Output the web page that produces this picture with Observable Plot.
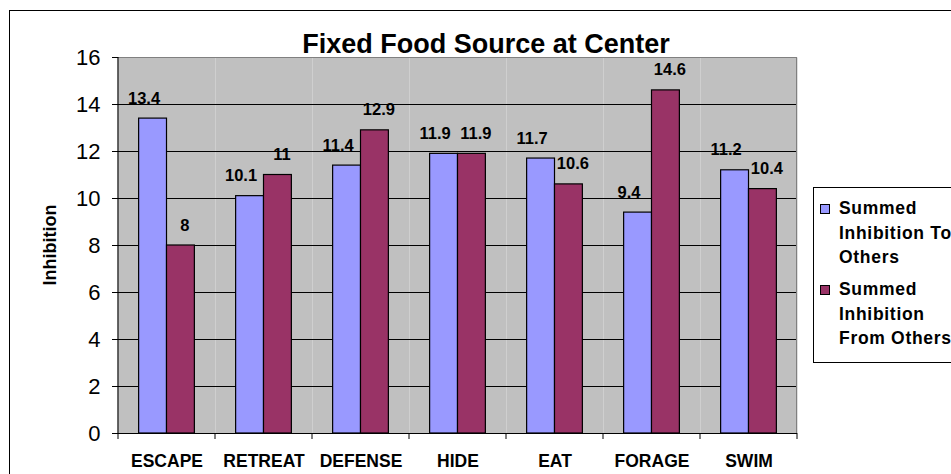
<!DOCTYPE html>
<html>
<head>
<meta charset="utf-8">
<script src="https://cdn.jsdelivr.net/npm/d3@7"></script>
<script src="https://cdn.jsdelivr.net/npm/@observablehq/plot@0.6"></script>
<style>
  html, body { margin: 0; padding: 0; width: 951px; height: 474px; overflow: hidden; background: #fff; }
  body { position: relative; font-family: Arial, "Liberation Sans", sans-serif; }
  #outer { position: absolute; left: 9px; top: 10px; width: 1000px; height: 500px; border: 1px solid #000; box-sizing: border-box; }
  #chart { position: absolute; left: 0; top: 0; }
  #title { position: absolute; left: 0; width: 972px; top: 31px; text-align: center; font-size: 27px; line-height: 27px; font-weight: bold; }
  #ytitle { position: absolute; left: -50px; width: 200px; top: 236px; text-align: center; font-size: 18px; line-height: 18px; font-weight: bold; transform: rotate(-90deg); }
  #legend { position: absolute; left: 813px; top: 187px; width: 170px; height: 176px; border: 1px solid #000; box-sizing: border-box; background: #fff; }
  .item { position: absolute; left: 0; }
  .sw { position: absolute; left: 6px; width: 8px; height: 8px; border: 1px solid #000; }
  .lab { position: absolute; left: 25px; width: 220px; font-size: 17.5px; line-height: 24.5px; font-weight: bold; letter-spacing: 0.7px; white-space: nowrap; }
</style>
</head>
<body>
<div id="outer"></div>
<div id="chart"></div>
<div id="title">Fixed Food Source at Center</div>
<div id="ytitle">Inhibition</div>
<div id="legend"></div>
<script>
const categories = ["ESCAPE", "RETREAT", "DEFENSE", "HIDE", "EAT", "FORAGE", "SWIM"];
const seriesNames = ["Summed Inhibition To Others", "Summed Inhibition From Others"];
const toOthers = [13.4, 10.1, 11.4, 11.9, 11.7, 9.4, 11.2];
const fromOthers = [8, 11, 12.9, 11.9, 10.6, 14.6, 10.4];
const yTicks = [0, 2, 4, 6, 8, 10, 12, 14, 16];
const gridTicks = [2, 4, 6, 8, 10, 12, 14];
const colors = ["#9999FF", "#993366"];

const rows = [];
categories.forEach((c, i) => {
  rows.push({category: c, series: seriesNames[0], value: toOthers[i]});
  rows.push({category: c, series: seriesNames[1], value: fromOthers[i]});
});
const rowsTo = rows.filter(d => d.series === seriesNames[0]);
const rowsFrom = rows.filter(d => d.series === seriesNames[1]);

const labelOpts = {fx: "category", x: "series", y: "value", text: d => String(d.value), lineAnchor: "bottom", dy: -15, fontSize: 16.5, fontWeight: "bold", fill: "#000"};

const W = 951, H = 474;
const plot = Plot.plot({
  width: W,
  height: H,
  marginLeft: 118,
  marginRight: 154,
  marginTop: 57,
  marginBottom: 41,
  style: {background: "transparent", color: "#000", fontFamily: "Arial, 'Liberation Sans', sans-serif", overflow: "visible"},
  fx: {domain: categories, padding: 0, round: false},
  x: {domain: seriesNames, paddingInner: 0, paddingOuter: 0.74, round: false, axis: null},
  y: {domain: [0, 16]},
  color: {domain: seriesNames, range: colors},
  marks: [
    Plot.frame({fill: "#C0C0C0", stroke: "none"}),
    Plot.ruleY(gridTicks, {stroke: "#000", strokeWidth: 1}),
    Plot.barY(rows, {fx: "category", x: "series", y: "value", fill: "series", stroke: "#000", strokeWidth: 1.2}),
    Plot.text(rowsTo, {...labelOpts, dx: -9}),
    Plot.text(rowsFrom, {...labelOpts, dx: 4}),
    Plot.ruleY([0], {stroke: "#000", strokeWidth: 1.2}),
    Plot.axisY({ticks: yTicks, tickSize: 6, tickPadding: 12, fontSize: 22, label: null, tickFormat: d => String(d)}),
    Plot.axisFx({anchor: "bottom", tickSize: 0, tickPadding: 21, fontSize: 17.5, fontWeight: "bold", label: null})
  ]
});
document.getElementById("chart").appendChild(plot);

// Decorations from the library scales: plot-area border, y axis line, category boundary ticks
const fx = plot.scale("fx");
const ys = plot.scale("y");
const svg = d3.select(plot);
const y0 = ys.apply(0), yTop = ys.apply(16);
const bounds = categories.map(c => fx.apply(c));
bounds.push(fx.apply(categories[categories.length - 1]) + fx.bandwidth);
const xL = bounds[0], xR = bounds[bounds.length - 1];
const g = svg.append("g");
g.append("line").attr("x1", xL).attr("x2", xR).attr("y1", yTop + 0.5).attr("y2", yTop + 0.5).attr("stroke", "#808080");
g.append("line").attr("x1", xR - 0.5).attr("x2", xR - 0.5).attr("y1", yTop).attr("y2", y0).attr("stroke", "#808080");
g.append("line").attr("x1", xL).attr("x2", xL).attr("y1", yTop).attr("y2", y0).attr("stroke", "#000").attr("stroke-width", 1.2);
bounds.forEach(b => {
  g.append("line").attr("x1", b).attr("x2", b).attr("y1", y0).attr("y2", y0 + 6).attr("stroke", "#000");
});

// Legend
const legend = d3.select("#legend");
const items = [
  {lines: ["Summed", "Inhibition To", "Others"], top: 8},
  {lines: ["Summed", "Inhibition", "From Others"], top: 89}
];
items.forEach((it, i) => {
  const d = legend.append("div").attr("class", "item").style("top", it.top + "px");
  d.append("div").attr("class", "sw").style("top", "8px").style("background", colors[i]);
  d.append("div").attr("class", "lab").style("top", "0px").html(it.lines.join("<br>"));
});
</script>
</body>
</html>
